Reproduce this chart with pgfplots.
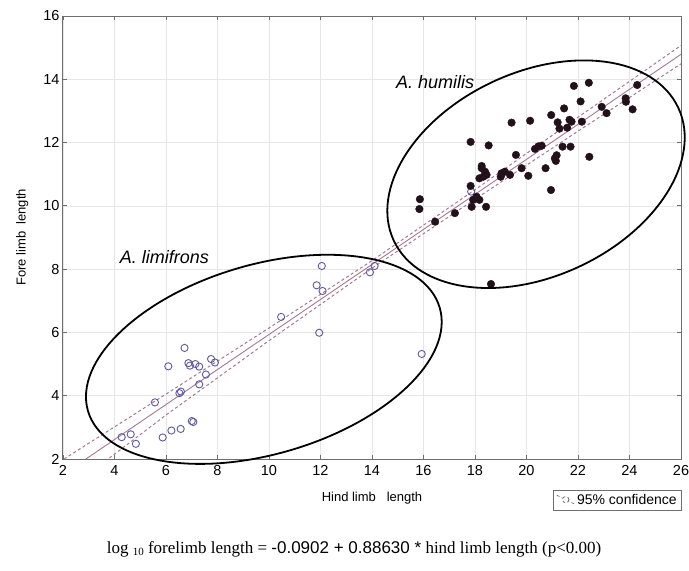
\documentclass[border=0pt]{standalone}
\usepackage{fontspec}
\setmainfont{Liberation Serif}
\setsansfont{Liberation Sans}
\usepackage{pgfplots}
\pgfplotsset{compat=1.18}
\definecolor{limcol}{HTML}{5E58A6}
\definecolor{humcol}{HTML}{22101A}
\definecolor{fitcol}{HTML}{A87890}
\definecolor{gridcol}{HTML}{E6E6E6}
\definecolor{framecol}{HTML}{6E6E6E}

\begin{document}
\begin{tikzpicture}
\begin{axis}[
  scale only axis, width=618pt, height=443pt,
  xmin=2, xmax=26, ymin=2, ymax=16,
  xtick={2,4,...,26}, ytick={2,4,...,16},
  grid=major, major grid style={gridcol, line width=0.6pt},
  axis line style={framecol, line width=1pt},
  tick style={framecol, line width=0.8pt}, major tick length=4pt,
  tick align=inside, tick pos=both,
  /pgf/number format/assume math mode=true,
  tick label style={font=\sffamily\fontsize{14.5}{17}\selectfont},
  xticklabel style={yshift=-3pt},
  xlabel={Hind limb\ \ \ length}, ylabel={Fore limb\ \ length},
  every axis x label/.style={at={(axis description cs:0.5,-0.088)}, anchor=center, font=\sffamily\fontsize{13}{15}\selectfont},
  every axis y label/.style={at={(axis description cs:-0.066,0.5)}, anchor=center, rotate=90, font=\sffamily\fontsize{13}{15}\selectfont},
  legend style={at={(axis description cs:0.793,-0.070)}, anchor=north west, draw=framecol, line width=0.6pt,
    font=\sffamily\fontsize{14}{16}\selectfont, inner xsep=3pt, inner ysep=2pt, row sep=0pt},
]
% regression line and 95% bands
\addplot[fitcol, line width=0.9pt, forget plot] coordinates {(2.89,2.0) (26,14.79)};
\addplot[fitcol, line width=1pt, dash pattern=on 3pt off 2.5pt,
  legend image code/.code={
    \draw[framecol, line width=0.7pt] (0pt,5pt) -- (18pt,-4pt);
    \draw[framecol, line width=0.8pt, fill=white] (9pt,0.5pt) circle (3.2pt);}]
  coordinates {(2.04,2.0) (6,4.05) (10,6.14) (14,8.27) (18,10.51) (22,12.80) (26,15.07)};
\addlegendentry{95\% confidence\hspace{14pt}}
\addplot[fitcol, line width=1pt, dash pattern=on 3pt off 2.5pt, forget plot]
  coordinates {(3.8,2.03) (6,3.39) (10,5.74) (14,8.03) (18,10.21) (22,12.36) (26,14.49)};
% A. limifrons
\addplot[only marks, mark=o, mark size=3.6pt, limcol, mark options={line width=0.9pt}, forget plot] coordinates {
(4.28,2.69) (4.63,2.78) (4.83,2.48) (5.57,3.79) (5.87,2.68) (6.21,2.90) (6.09,4.93)
(6.57,2.95) (6.52,4.08) (6.58,4.13) (6.72,5.51) (6.87,5.03) (6.93,4.95) (7.14,5.00)
(7.29,4.92) (7.00,3.20) (7.06,3.17) (7.29,4.36) (7.55,4.67) (7.75,5.16) (7.90,5.05)
(10.47,6.49) (11.85,7.49) (12.05,8.10) (12.08,7.31) (11.95,5.99) (13.92,7.90)
(14.10,8.10) (15.93,5.32) (17.85,10.45)
};
% A. humilis
\addplot[only marks, mark=*, mark size=3.8pt, humcol, mark options={fill=humcol}, forget plot] coordinates {
(15.86,10.21) (15.84,9.90) (16.45,9.50) (17.22,9.77) (17.83,12.02) (18.53,11.91)
(17.83,10.63) (18.06,10.29) (17.93,10.19) (18.17,10.19) (18.43,9.97) (17.87,9.97)
(18.26,11.19) (18.39,11.08) (18.45,10.98) (18.17,10.87) (18.32,10.92) (18.26,11.26)
(19.03,11.03) (19.16,11.08) (19.36,10.98) (19.00,10.92) (19.81,11.19) (20.07,10.95)
(19.42,12.63) (19.59,11.61) (20.14,12.69) (20.33,11.80) (20.46,11.88) (20.59,11.90)
(20.74,11.19) (20.95,10.50) (20.96,12.87) (21.10,11.50) (21.17,11.60) (21.14,11.42)
(21.21,12.64) (21.28,12.44) (21.40,11.87) (21.71,11.87) (21.46,13.08) (21.58,12.47)
(21.67,12.72) (21.75,12.66) (22.15,12.66) (21.84,13.79) (22.10,13.30) (22.42,13.89)
(22.44,11.55) (22.92,13.13) (23.11,12.93) (23.85,13.40) (23.86,13.29) (24.12,13.05)
(24.30,13.82) (18.62,7.53)
};
\node[font=\sffamily\itshape\fontsize{18}{20}\selectfont] at (axis cs:16.45,13.91) {A. humilis};
\node[font=\sffamily\itshape\fontsize{18}{20}\selectfont] at (axis cs:5.94,8.39) {A. limifrons};
\coordinate (clim) at (axis cs:9.80,5.15);
\coordinate (chum) at (axis cs:20.37,11.0);
\coordinate (eqpos) at (axis description cs:0.471,-0.203);
\end{axis}
\draw[black, line width=1.8pt, rotate around={16.4:(clim)}] (clim) ellipse [x radius=183.3pt, y radius=94.7pt];
\draw[black, line width=1.8pt, rotate around={25:(chum)}] (chum) ellipse [x radius=157pt, y radius=102pt];
\node[font=\fontsize{17}{20}\selectfont] at (eqpos)
  {log \raisebox{-0.3ex}{\fontsize{11}{12}\selectfont 10} forelimb length = \textsf{-0.0902 + 0.88630 *} hind limb length (p<0.00)};
\pgfresetboundingbox
\path ([shift={(-63pt,-112pt)}]current axis.south west) rectangle ([shift={(8pt,16pt)}]current axis.north east);
\end{tikzpicture}
\end{document}
